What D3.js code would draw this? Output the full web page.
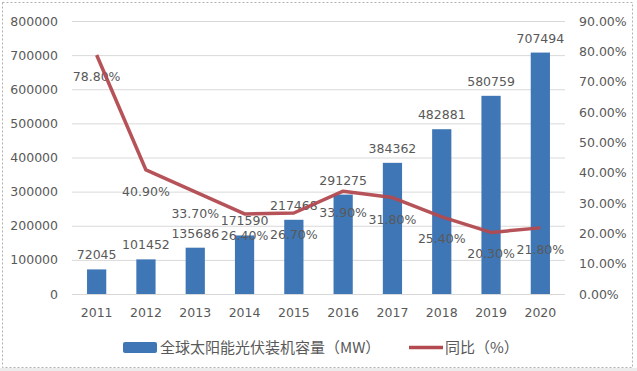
<!DOCTYPE html>
<html>
<head>
<meta charset="utf-8">
<script src="https://cdn.jsdelivr.net/npm/d3@7/dist/d3.min.js"></script>
<style>
  body { margin: 0; background: #fff; }
  svg { display: block; }
  text { font-family: "DejaVu Sans", sans-serif; fill: #595959; }
</style>
</head>
<body>
<div class="chart"></div>
<script>
const years = ['2011', '2012', '2013', '2014', '2015', '2016', '2017', '2018', '2019', '2020']
const capacity = [72045, 101452, 135686, 171590, 217468, 291275, 384362, 482881, 580759, 707494]
const growth = [78.8, 40.9, 33.7, 26.4, 26.7, 33.9, 31.8, 25.4, 20.3, 21.8]
const leftTicks = [0, 100000, 200000, 300000, 400000, 500000, 600000, 700000, 800000]
const rightTicks = [0, 10, 20, 30, 40, 50, 60, 70, 80, 90]
const barName = '全球太阳能光伏装机容量（MW）'
const lineName = '同比（%）'

const width = 637, height = 371
const blue = '#3f76b5', red = '#b24a50'

const svg = d3.select('.chart').append('svg')
    .attr('width', width)
    .attr('height', height)

// bottom strip + dashed frame
svg.append('rect').attr('x', 0).attr('y', 368).attr('width', width).attr('height', 3).attr('fill', '#ececec')
svg.append('rect')
    .attr('x', 2.5).attr('y', 2.5).attr('width', 630).attr('height', 365)
    .attr('fill', 'none').attr('stroke', '#b0b0b0').attr('stroke-dasharray', '2,2')

const x = d3.scaleBand().domain(years).range([72, 565]).paddingInner(0.61).paddingOuter(0.305)
const y = d3.scaleLinear().domain([0, 800000]).range([294, 21])
const y2 = d3.scaleLinear().domain([0, 90]).range([294, 21])

// gridlines
svg.append('g').selectAll('line')
    .data(leftTicks)
    .enter().append('line')
    .attr('x1', 72).attr('x2', 565)
    .attr('y1', d => y(d) + 0.5).attr('y2', d => y(d) + 0.5)
    .attr('stroke', '#d9d9d9')

// left axis
const yAxis = svg.append('g')
    .attr('transform', 'translate(60,0)')
    .call(d3.axisLeft(y).tickValues(leftTicks).tickSize(0).tickPadding(2).tickFormat(d3.format('d')))
yAxis.select('.domain').remove()
yAxis.selectAll('text').style('font-size', '12.5px').attr('fill', '#595959')

// right axis
const y2Axis = svg.append('g')
    .attr('transform', 'translate(577,0)')
    .call(d3.axisRight(y2).tickValues(rightTicks).tickSize(0).tickPadding(2).tickFormat(d => d.toFixed(2) + '%'))
y2Axis.select('.domain').remove()
y2Axis.selectAll('text').style('font-size', '12.5px').attr('fill', '#595959')

// x axis
const xAxis = svg.append('g')
    .attr('transform', 'translate(0,306)')
    .call(d3.axisBottom(x).tickSize(0).tickPadding(0))
xAxis.select('.domain').remove()
xAxis.selectAll('text').style('font-size', '12.5px').attr('fill', '#595959').attr('dy', '0.85em')

// bars
svg.append('g').selectAll('rect')
    .data(capacity)
    .enter().append('rect')
    .attr('x', (d, i) => x(years[i]))
    .attr('y', d => y(d))
    .attr('width', x.bandwidth())
    .attr('height', d => y(0) - y(d))
    .attr('fill', blue)

svg.append('g').selectAll('text')
    .data(capacity)
    .enter().append('text')
    .attr('x', (d, i) => x(years[i]) + x.bandwidth() / 2)
    .attr('y', d => y(d) - 10)
    .attr('text-anchor', 'middle')
    .style('font-size', '12.5px')
    .text(d => d)

// growth labels
svg.append('g').selectAll('text')
    .data(growth)
    .enter().append('text')
    .attr('x', (d, i) => x(years[i]) + x.bandwidth() / 2)
    .attr('y', d => y2(d) + 26)
    .attr('text-anchor', 'middle')
    .style('font-size', '12.5px')
    .text(d => d.toFixed(2) + '%')

// line
const line = d3.line()
    .x((d, i) => x(years[i]) + x.bandwidth() / 2)
    .y(d => y2(d))

svg.append('path')
    .datum(growth)
    .attr('d', line)
    .attr('fill', 'none')
    .attr('stroke', red)
    .attr('stroke-width', 3.5)
    .attr('stroke-linejoin', 'round')
    .attr('opacity', 0.95)

// legend
const legend = svg.append('g')
legend.append('rect').attr('x', 123).attr('y', 342).attr('width', 34).attr('height', 11).attr('rx', 2).attr('fill', blue)
legend.append('text').attr('x', 160).attr('y', 353)
    .style('font-family', '"Noto Sans CJK SC", sans-serif').style('font-size', '15px')
    .text(barName)
legend.append('line').attr('x1', 409).attr('x2', 443).attr('y1', 347.5).attr('y2', 347.5)
    .attr('stroke', red).attr('stroke-width', 3.5)
legend.append('text').attr('x', 445).attr('y', 353)
    .style('font-family', '"Noto Sans CJK SC", sans-serif').style('font-size', '15px')
    .text(lineName)
</script>
</body>
</html>
